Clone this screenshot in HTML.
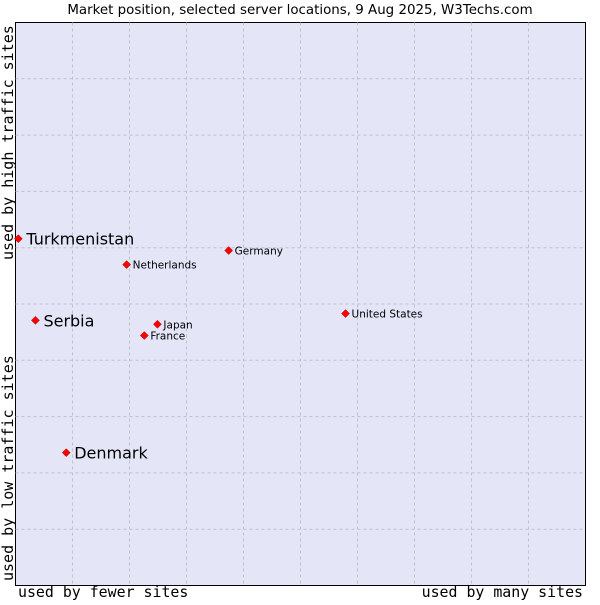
<!DOCTYPE html>
<html><head><meta charset="utf-8"><style>
body{margin:0;background:#fff;width:600px;height:600px;overflow:hidden}
svg text{font-family:"DejaVu Sans","Liberation Sans",sans-serif}
.mono{font-family:"DejaVu Sans Mono","Liberation Mono",monospace}
</style></head><body>
<svg id="chart" width="600" height="600">
<text x="300" y="14" font-size="13.4" text-anchor="middle" fill="#000">Market position, selected server locations, 9 Aug 2025, W3Techs.com</text>
<rect x="15.5" y="22.5" width="570" height="563" fill="#e4e6f8" stroke="#000" stroke-width="1"/>
<g id="grid"></g>
<g id="marks"></g>
<text class="mono" x="18" y="597" font-size="14.9">used by fewer sites</text>
<text class="mono" x="583" y="597" font-size="14.9" text-anchor="end">used by many sites</text>
<text class="mono" transform="translate(13,260) rotate(-90)" font-size="15">used by high traffic sites</text>
<text class="mono" transform="translate(13,581) rotate(-90)" font-size="15">used by low traffic sites</text>
</svg>
<script>
const names=["Turkmenistan","Serbia","Denmark","Netherlands","Germany","United States","Japan","France"];
const xVals=[0.5,3.5,8.9,19.5,37.4,57.9,24.9,22.6];
const yVals=[61.6,47.1,23.6,57.0,59.5,48.3,46.4,44.4];
const big=[true,true,true,false,false,false,false,false];
const L=15.5,T=22.5,W=570,H=563;
const sx=v=>L+v/100*W, sy=v=>T+H-v/100*H;
const ns="http://www.w3.org/2000/svg";
const grid=document.getElementById('grid');
for(let i=1;i<10;i++){
 const v=document.createElementNS(ns,'line');
 v.setAttribute('x1',sx(i*10));v.setAttribute('x2',sx(i*10));v.setAttribute('y1',T);v.setAttribute('y2',T+H);
 v.setAttribute('stroke','#c0c0c8');v.setAttribute('stroke-dasharray','3,3');
 
 
 grid.appendChild(v);
 const h=document.createElementNS(ns,'line');
 h.setAttribute('y1',sy(i*10));h.setAttribute('y2',sy(i*10));h.setAttribute('x1',L);h.setAttribute('x2',L+W);
 h.setAttribute('stroke','#c0c0c8');h.setAttribute('stroke-dasharray','3,3');
 
 
 grid.appendChild(h);
}
const marks=document.getElementById('marks');
names.forEach((n,i)=>{
 const x=sx(xVals[i]),y=sy(yVals[i]);
 const d=document.createElementNS(ns,'path');
 d.setAttribute('d',`M${x} ${y-4}L${x+4} ${y}L${x} ${y+4}L${x-4} ${y}Z`);
 d.setAttribute('fill','#f00');d.setAttribute('stroke','#a00');d.setAttribute('stroke-width','0.5');
 
 
 marks.appendChild(d);
 const t=document.createElementNS(ns,'text');
 t.setAttribute('x',x+(big[i]?8:6));t.setAttribute('y',y+(big[i]?6:4));
 t.setAttribute('font-size',big[i]?'16':'10.5');
 t.textContent=n;
 
 
 marks.appendChild(t);
});
</script>
</body></html>
